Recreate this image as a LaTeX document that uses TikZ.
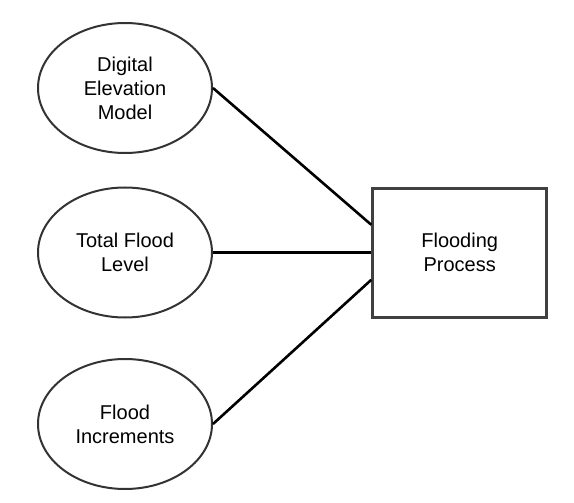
\documentclass[tikz,border=0pt]{standalone}
\usepackage{fontspec}
\setmainfont{Liberation Sans}
\usetikzlibrary{shapes.geometric}
\definecolor{edgegray}{HTML}{333333}
\definecolor{boxgray}{HTML}{404040}
\begin{document}
\begin{tikzpicture}[x=1pt,y=-1pt,
  inputnode/.style={ellipse, draw=edgegray, line width=2pt, minimum width=174pt, minimum height=130pt, inner sep=0pt, align=center, font=\fontsize{20}{24}\selectfont},
  procbox/.style={rectangle, draw=boxgray, line width=2.8pt, minimum width=174pt, minimum height=129pt, inner sep=0pt, align=center, font=\fontsize{20}{24}\selectfont},
  link/.style={line width=2.6pt, black}]
\useasboundingbox (0,0) rectangle (574,503);
\node[inputnode] (dem) at (125,88) {Digital\\Elevation\\Model};
\node[inputnode] (tfl) at (125,252.5) {Total Flood\\Level};
\node[inputnode] (fi) at (125,424) {Flood\\Increments};
\node[procbox] (fp) at (459.7,252.8) {Flooding\\Process};
\draw[link] (dem.east) -- ([yshift=28pt]fp.west);
\draw[link] (tfl.east) -- (fp.west |- tfl.east);
\draw[link] (fi.east) -- ([yshift=-27pt]fp.west);
\end{tikzpicture}
\end{document}
